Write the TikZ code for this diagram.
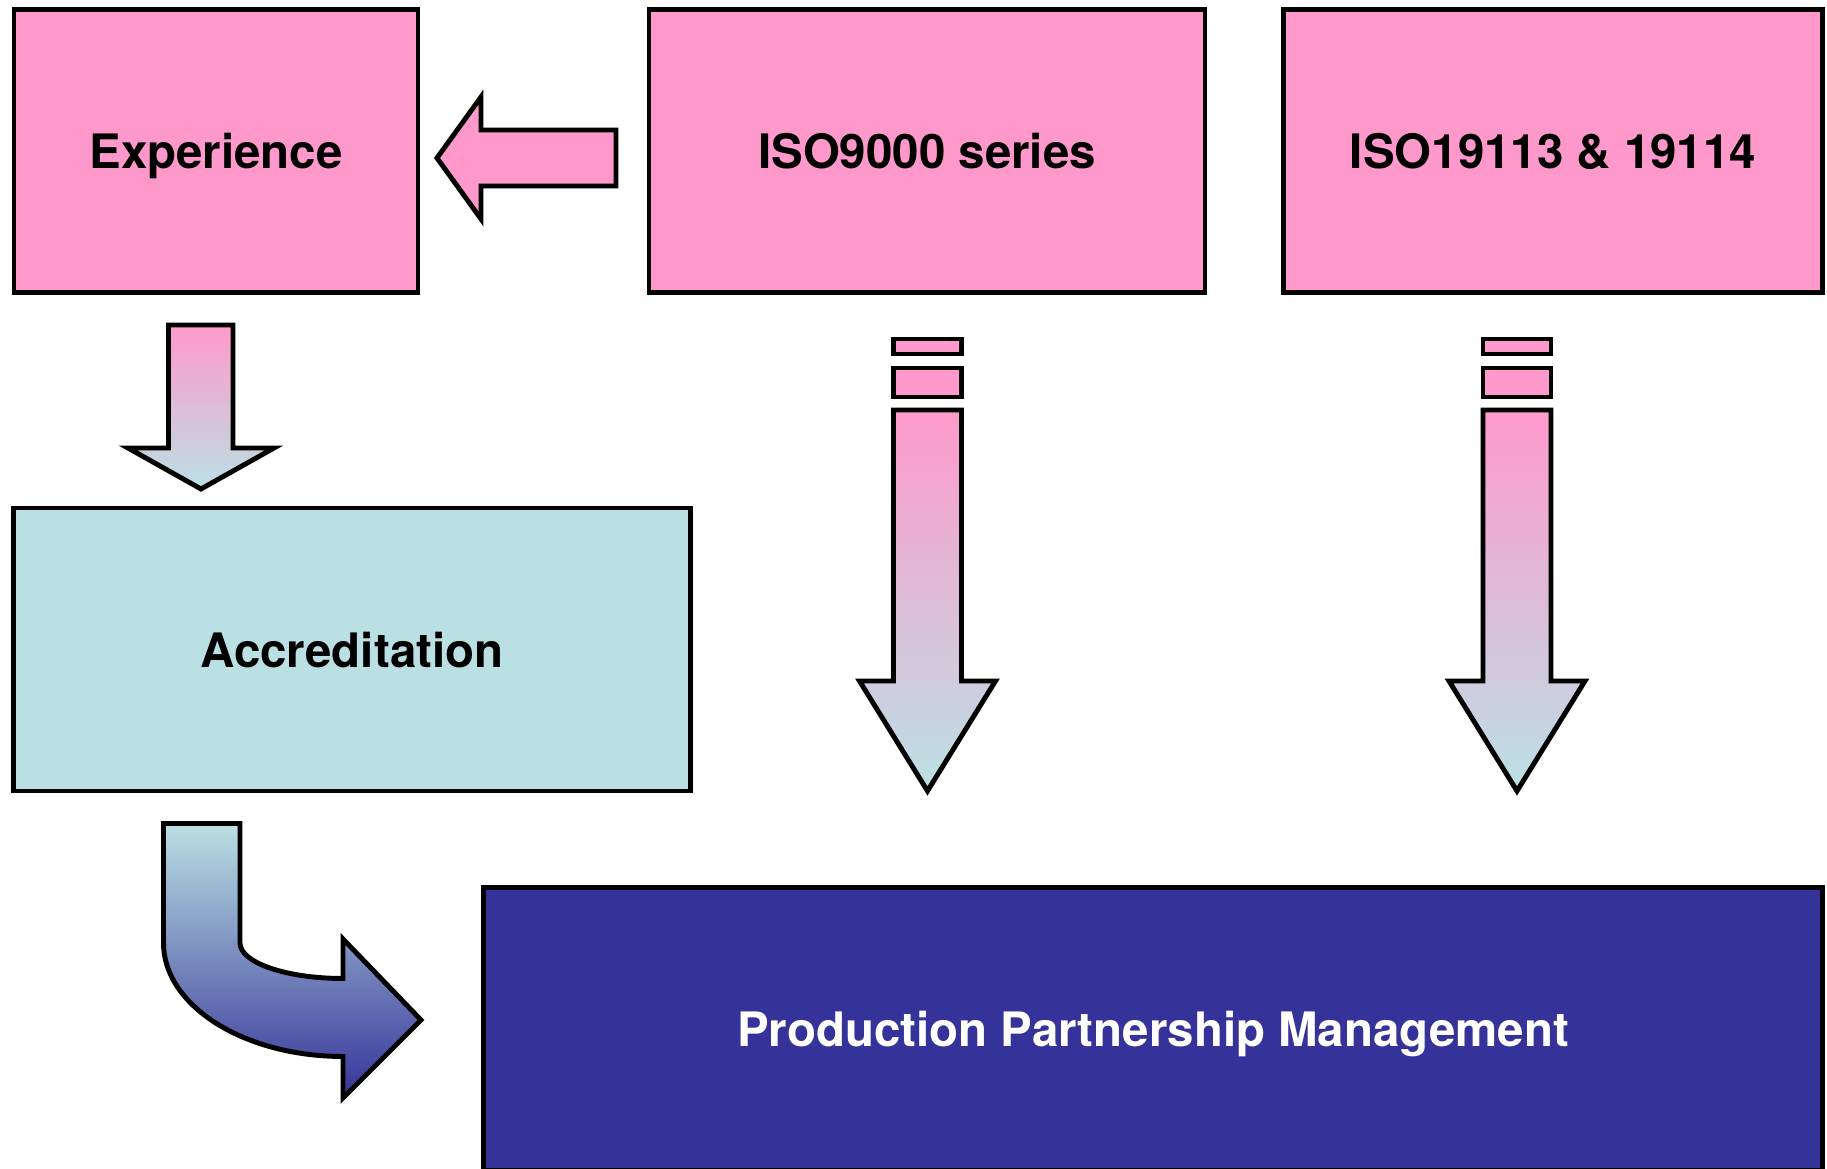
\documentclass[tikz,border=0pt]{standalone}
\usepackage{fontspec}
\setmainfont{TeX Gyre Heros}
\definecolor{rosa}{RGB}{255,153,204}
\definecolor{eis}{RGB}{187,224,227}
\definecolor{tinte}{RGB}{53,51,153}

\begin{document}
\begin{tikzpicture}[x=0.1mm, y=-0.1mm, line width=1.4pt,
	feld/.style={draw, rectangle, inner sep=0pt, text depth=0pt, minimum height=28.3mm, font=\bfseries\fontsize{13.5}{16}\selectfont},
	pfeil/.style={draw, top color=rosa, bottom color=eis}]
			\useasboundingbox (0,0) rectangle (1827,1169);
			\clip (0,0) rectangle (1827,1169);
			\node[feld, fill=rosa, minimum width=40.4mm] (exp) at (216,151) {Experience};
			\node[feld, fill=rosa, minimum width=55.6mm] (iso9) at (927,151) {ISO9000 series};
			\node[feld, fill=rosa, minimum width=53.85mm] (iso19) at (1553,151) {ISO19113 \& 19114};
			\node[feld, fill=eis, minimum width=67.65mm] (acc) at (352,649.5) {Accreditation};
			\node[feld, fill=tinte, text=white, minimum width=133.9mm] (ppm) at (1153,1029) {Production Partnership Management};
			\draw[fill=rosa] (616,130)--(481,130)--(481,97)--(437,158)--(481,219)--(481,186)--(616,186)--cycle;
			\draw[pfeil] (168.5,325)--(233,325)--(233,448)--(274,448)--(201,489)--(128,448)--(168.5,448)--cycle;
			\foreach \m in {927.5,1517}{
				\draw[fill=rosa] ({\m-34},339) rectangle ({\m+34},354);
				\draw[fill=rosa] ({\m-34},368) rectangle ({\m+34},397);
				\draw[pfeil] ({\m-34},410)--({\m+34},410)--({\m+34},681)--({\m+68},681)--(\m,791)--({\m-68},681)--({\m-34},681)--cycle;
			}
			\draw[draw, top color=eis, bottom color=tinte] (163.5,823.5)--(240,823.5)--(240,943)
				.. controls (240,962.6) and (286,978.5) .. (343,978.5)--(343,939)--(421,1020)--(343,1098)--(343,1056.5)
				.. controls (244,1056.5) and (163.5,1005.7) .. (163.5,943)--cycle;
		\end{tikzpicture}
\end{document}
